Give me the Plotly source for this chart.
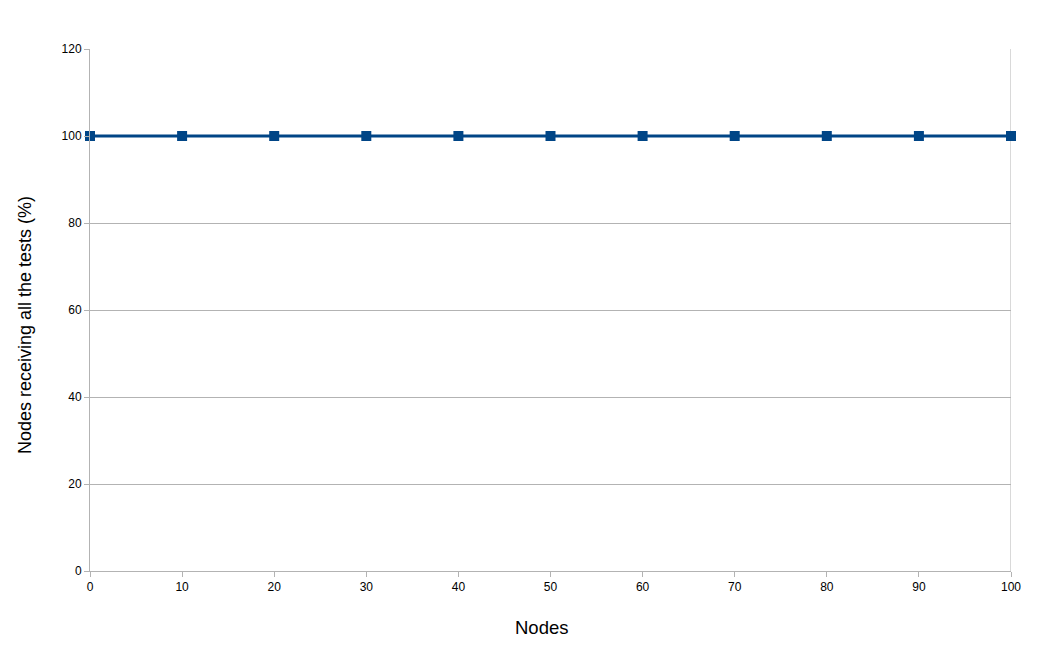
import plotly.graph_objects as go

nodes = [0, 10, 20, 30, 40, 50, 60, 70, 80, 90, 100]
received_pct = [100, 100, 100, 100, 100, 100, 100, 100, 100, 100, 100]
y_ticks = [0, 20, 40, 60, 80, 100, 120]

FONT = "Liberation Sans, Arial, sans-serif"

fig = go.Figure()
fig.add_trace(go.Scatter(
    x=nodes, y=received_pct, mode="lines+markers",
    line=dict(color="#004586", width=3),
    marker=dict(symbol="square", size=10, color="#004586"),
    cliponaxis=False, showlegend=False,
))
axis_common = dict(
    showline=True, linecolor="#b3b3b3", linewidth=1, mirror=False,
    ticks="outside", ticklen=5, tickcolor="#b3b3b3",
    tickfont=dict(family=FONT, size=12, color="#000000"),
    zeroline=False,
)
fig.update_xaxes(range=[0, 100], tickvals=nodes, showgrid=False, **axis_common)
fig.update_yaxes(range=[0, 120], tickvals=y_ticks, showgrid=True,
                 gridcolor="#b3b3b3", gridwidth=1, **axis_common)
fig.add_shape(type="line", xref="x", yref="paper", x0=100, x1=100, y0=0, y1=1,
              line=dict(color="#b3b3b3", width=1), layer="below")
fig.add_annotation(text="Nodes", xref="paper", yref="paper", x=0.4897, y=-0.109,
                   xanchor="center", yanchor="middle", showarrow=False,
                   font=dict(family=FONT, size=18.5, color="#000"))
fig.add_annotation(text="Nodes receiving all the tests (%)", xref="paper", yref="paper",
                   x=-0.0706, y=0.471, textangle=-90,
                   xanchor="center", yanchor="middle", showarrow=False,
                   font=dict(family=FONT, size=18, color="#000"))
fig.update_layout(
    width=1034, height=644,
    margin=dict(l=82, r=31, t=41, b=81),
    plot_bgcolor="#ffffff", paper_bgcolor="#ffffff",
)
fig.write_html("out.html")
